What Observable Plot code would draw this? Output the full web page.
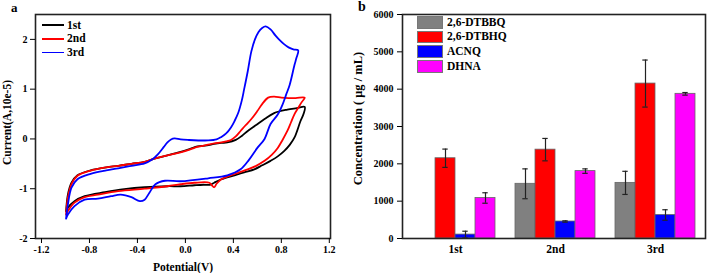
<!DOCTYPE html>
<html><head><meta charset="utf-8">
<script src="https://cdn.jsdelivr.net/npm/d3@7"></script>
<script src="https://cdn.jsdelivr.net/npm/@observablehq/plot@0.6"></script>
<style>
body{margin:0;background:#fff;}
#wrap{position:relative;width:707px;height:273px;display:flex;font-family:"Liberation Serif","Times New Roman",serif;font-weight:bold;color:#000;overflow:hidden}
.lbl{position:absolute;font-size:11.5px;line-height:1;white-space:nowrap;transform:translateY(-50%)}
.ln{position:absolute;height:1.8px}
.sw{position:absolute;box-sizing:border-box;border:1px solid #777}
</style></head><body><div id="wrap"></div>
<script>
// ---------- Panel a: cyclic voltammetry ----------
const cvSeries = ["1st", "2nd", "3rd"];
const cvColors = ["#000000", "#ff0000", "#0000ff"];
const cvXTicks = [-1.2, -0.8, -0.4, 0.0, 0.4, 0.8, 1.2];
const cvYTicks = [-2, -1, 0, 1, 2];

const cv1V = [-0.995,-0.98,-0.95,-0.9,-0.79,-0.66,-0.56,-0.45,-0.34,-0.25,-0.15,-0.04,0.04,0.1,0.18,0.24,0.3,0.35,0.42,0.47,0.52,0.59,0.66,0.74,0.85,0.93,0.995,
  0.985,0.96,0.91,0.87,0.825,0.77,0.71,0.64,0.575,0.49,0.41,0.3,0.24,0.21,0.15,0.075,-0.04,-0.15,-0.34,-0.51,-0.67,-0.84,-0.925,-0.98,-0.995];
const cv1I = [-1.45,-1.12,-0.88,-0.73,-0.63,-0.57,-0.54,-0.5,-0.46,-0.39,-0.33,-0.26,-0.2,-0.15,-0.13,-0.1,-0.08,-0.07,-0.02,0.06,0.16,0.28,0.4,0.52,0.59,0.62,0.645,
  0.5,0.36,0.03,-0.12,-0.24,-0.35,-0.44,-0.53,-0.61,-0.67,-0.73,-0.81,-0.88,-0.92,-0.92,-0.93,-0.95,-0.95,-0.97,-1.01,-1.07,-1.15,-1.25,-1.38,-1.45];

const cv2V = [-0.995,-0.98,-0.95,-0.9,-0.79,-0.66,-0.56,-0.45,-0.34,-0.25,-0.15,-0.04,0.04,0.1,0.18,0.24,0.3,0.34,0.38,0.42,0.46,0.5,0.55,0.6,0.64,0.69,0.74,0.8,0.86,0.92,0.995,
  0.97,0.94,0.91,0.88,0.85,0.81,0.77,0.72,0.66,0.59,0.52,0.45,0.38,0.3,0.26,0.24,0.22,0.2,0.075,-0.04,-0.15,-0.34,-0.56,-0.73,-0.84,-0.925,-0.98,-0.995];
const cv2I = [-1.52,-1.18,-0.91,-0.74,-0.635,-0.57,-0.54,-0.5,-0.46,-0.39,-0.33,-0.27,-0.21,-0.16,-0.12,-0.09,-0.07,-0.05,-0.02,0.05,0.16,0.27,0.4,0.56,0.7,0.83,0.85,0.83,0.82,0.82,0.83,
  0.74,0.62,0.5,0.33,0.16,-0.02,-0.18,-0.32,-0.44,-0.54,-0.61,-0.67,-0.73,-0.81,-0.9,-0.97,-0.93,-0.88,-0.88,-0.91,-0.95,-1.0,-1.05,-1.12,-1.17,-1.28,-1.45,-1.52];

const cv3V = [-0.995,-0.98,-0.95,-0.9,-0.79,-0.66,-0.56,-0.45,-0.34,-0.28,-0.23,-0.18,-0.15,-0.12,-0.09,-0.04,0.02,0.19,0.26,0.3,0.34,0.38,0.41,0.44,0.47,0.49,0.52,0.55,0.58,0.61,0.64,0.67,0.71,0.75,0.78,0.82,0.86,0.9,0.94,
  0.925,0.91,0.87,0.84,0.81,0.77,0.71,0.66,0.6,0.53,0.46,0.35,0.19,-0.04,-0.17,-0.25,-0.3,-0.34,-0.38,-0.45,-0.54,-0.62,-0.73,-0.84,-0.925,-0.98,-0.995];
const cv3I = [-1.6,-1.32,-0.98,-0.81,-0.7,-0.63,-0.59,-0.54,-0.49,-0.42,-0.31,-0.16,-0.07,-0.01,0.01,-0.01,-0.02,-0.03,-0.01,0.04,0.11,0.23,0.36,0.52,0.77,1.0,1.36,1.76,2.0,2.15,2.23,2.26,2.2,2.08,2.0,1.91,1.84,1.8,1.78,
  1.62,1.49,1.09,0.89,0.69,0.49,0.3,0.0,-0.18,-0.42,-0.61,-0.73,-0.79,-0.85,-0.84,-0.91,-1.08,-1.22,-1.25,-1.17,-1.12,-1.15,-1.2,-1.22,-1.35,-1.52,-1.6];

// ---------- Panel b: concentrations ----------
const categories = ["1st", "2nd", "3rd"];
const compounds = ["2,6-DTBBQ", "2,6-DTBHQ", "ACNQ", "DHNA"];
const barColors = ["#808080", "#ff0000", "#0000ff", "#ff00ff"];
const concYTicks = [0, 1000, 2000, 3000, 4000, 5000, 6000];
const valDTBBQ = [0, 1465, 1490];
const errDTBBQ = [0, 400, 310];
const valDTBHQ = [2150, 2380, 4150];
const errDTBHQ = [245, 300, 630];
const valACNQ = [105, 455, 630];
const errACNQ = [90, 18, 140];
const valDHNA = [1085, 1805, 3875];
const errDHNA = [140, 60, 35];

// ---------- build tables ----------
const cvRows = [];
[[cv1V, cv1I], [cv2V, cv2I], [cv3V, cv3I]].forEach(([vs, is], k) =>
  vs.forEach((v, i) => cvRows.push({series: cvSeries[k], V: v, I: is[i]})));

const vals = [valDTBBQ, valDTBHQ, valACNQ, valDHNA];
const errs = [errDTBBQ, errDTBHQ, errACNQ, errDHNA];
const barRows = [];
compounds.forEach((c, si) => categories.forEach((cat, gi) =>
  barRows.push({compound: c, category: cat, gi, si, value: vals[si][gi], err: errs[si][gi]})));

const font = '"Liberation Serif", "Times New Roman", serif';
const baseStyle = {fontFamily: font, fontSize: "10px", fontWeight: "bold", background: "transparent", overflow: "visible", color: "#000"};

const plotA = Plot.plot({
  width: 345, height: 273, marginLeft: 35, marginRight: 15, marginTop: 14, marginBottom: 35,
  style: baseStyle,
  x: {domain: [-1.25, 1.21]},
  y: {domain: [-2, 2.5]},
  color: {domain: cvSeries, range: cvColors},
  marks: [
    Plot.line(cvRows, {x: "V", y: "I", z: "series", stroke: "series", strokeWidth: 1.8, curve: "catmull-rom"}),
    Plot.frame({stroke: "#222", strokeWidth: 1.6}),
    Plot.axisX({ticks: cvXTicks, tickSize: 5, tickPadding: 2, tickFormat: d => d.toFixed(1), label: null}),
    Plot.axisY({ticks: cvYTicks, tickSize: 5, tickPadding: 3, tickFormat: d => String(d), label: null}),
    Plot.text(["Potential(V)"], {frameAnchor: "bottom", dy: 29, lineAnchor: "middle", fontSize: 11.5, text: d => d}),
    Plot.text(["Current(A,10e-5)"], {frameAnchor: "left", dx: -28, dy: -4, rotate: -90, textAnchor: "middle", lineAnchor: "middle", fontSize: 11.5, text: d => d})
  ]
});

const bw = 0.2;
const cx = d => d.gi + (d.si - 1.5) * bw;
const plotB = Plot.plot({
  width: 362, height: 273, marginLeft: 57, marginRight: 2, marginTop: 14, marginBottom: 35,
  style: baseStyle,
  x: {domain: [-0.53, 2.5]},
  y: {domain: [0, 6000]},
  color: {domain: compounds, range: barColors},
  marks: [
    Plot.rect(barRows.filter(d => d.value > 0), {x1: d => d.gi + (d.si - 2) * bw, x2: d => d.gi + (d.si - 1) * bw, y1: 0, y2: "value", fill: "compound", stroke: "#666", strokeWidth: 0.8}),
    Plot.ruleX(barRows.filter(d => d.err > 0), {x: cx, y1: d => d.value - d.err, y2: d => d.value + d.err, stroke: "#222", strokeWidth: 1.2}),
    Plot.ruleY(barRows.filter(d => d.err > 0), {y: d => d.value + d.err, x1: d => cx(d) - 0.027, x2: d => cx(d) + 0.027, stroke: "#222", strokeWidth: 1.2}),
    Plot.ruleY(barRows.filter(d => d.err > 0), {y: d => d.value - d.err, x1: d => cx(d) - 0.027, x2: d => cx(d) + 0.027, stroke: "#222", strokeWidth: 1.2}),
    Plot.frame({stroke: "#222", strokeWidth: 1.6}),
    Plot.axisX({ticks: [0, 1, 2], tickFormat: i => categories[i], tickSize: 0, tickPadding: 6, fontSize: 11.5, label: null}),
    Plot.axisY({ticks: concYTicks, tickSize: 5, tickPadding: 4, tickFormat: d => String(d), label: null}),
    Plot.text(["Concentration ( μg / mL)"], {frameAnchor: "left", dx: -45, dy: -8, rotate: -90, textAnchor: "middle", lineAnchor: "middle", fontSize: 12.5, text: d => d})
  ]
});

const wrap = document.getElementById("wrap");
wrap.appendChild(plotA);
wrap.appendChild(plotB);

function addText(txt, x, y, size) {
  const el = document.createElement("div");
  el.className = "lbl"; el.textContent = txt;
  el.style.left = x + "px"; el.style.top = y + "px";
  if (size) el.style.fontSize = size + "px";
  wrap.appendChild(el);
}
// panel letters
addText("a", 11, 7, 13);
addText("b", 358, 7, 14);
// legend a
cvSeries.forEach((s, i) => {
  const y = 25 + i * 13.7;
  const ln = document.createElement("div");
  ln.className = "ln"; ln.style.left = "42px"; ln.style.width = "22px";
  ln.style.top = (y - 0.9) + "px"; ln.style.background = cvColors[i];
  wrap.appendChild(ln);
  addText(s, 67, y + 0.5);
});
// legend b
compounds.forEach((c, i) => {
  const y = 22 + i * 14.7;
  const sw = document.createElement("div");
  sw.className = "sw"; sw.style.left = "417px"; sw.style.width = "26px";
  sw.style.top = (y - 6) + "px"; sw.style.height = "12.5px"; sw.style.background = barColors[i];
  wrap.appendChild(sw);
  addText(c, 447, y + 0.5);
});
</script>
</body></html>
